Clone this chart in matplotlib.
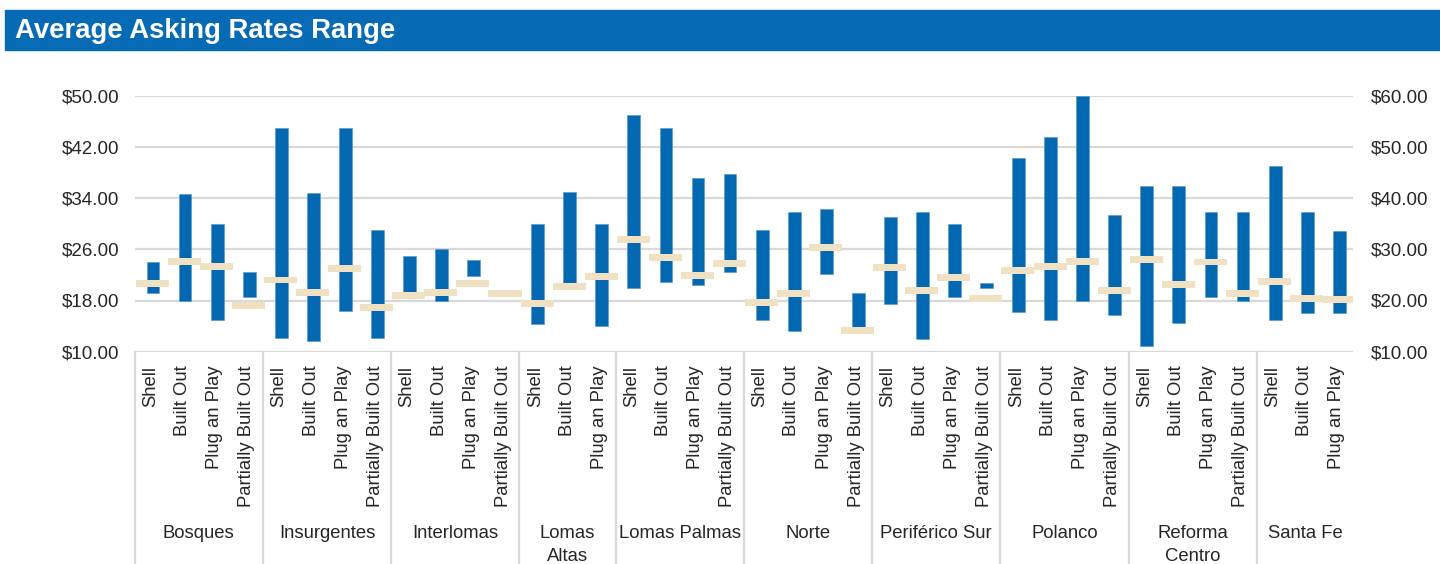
import matplotlib
matplotlib.use("Agg")
import matplotlib.pyplot as plt
import matplotlib.transforms as mtransforms
from matplotlib.patches import Rectangle
import numpy as np

plt.rcParams['font.family'] = ['Liberation Sans', 'DejaVu Sans']

title = "Average Asking Rates Range"

groups = ['Bosques', 'Insurgentes', 'Interlomas', 'Lomas\nAltas', 'Lomas Palmas',
          'Norte', 'Periférico Sur', 'Polanco', 'Reforma\nCentro', 'Santa Fe']
group_types = [
    ['Shell', 'Built Out', 'Plug an Play', 'Partially Built Out'],
    ['Shell', 'Built Out', 'Plug an Play', 'Partially Built Out'],
    ['Shell', 'Built Out', 'Plug an Play', 'Partially Built Out'],
    ['Shell', 'Built Out', 'Plug an Play'],
    ['Shell', 'Built Out', 'Plug an Play', 'Partially Built Out'],
    ['Shell', 'Built Out', 'Plug an Play', 'Partially Built Out'],
    ['Shell', 'Built Out', 'Plug an Play', 'Partially Built Out'],
    ['Shell', 'Built Out', 'Plug an Play', 'Partially Built Out'],
    ['Shell', 'Built Out', 'Plug an Play', 'Partially Built Out'],
    ['Shell', 'Built Out', 'Plug an Play'],
]

low_rate = [19.2, 18.0, 15.0, 18.6,
            12.2, 11.6, 16.4, 12.2,
            19.2, 18.0, 21.9, 19.1,
            14.4, 20.6, 14.0,
            20.0, 20.9, 20.5, 22.4,
            15.0, 13.3, 22.1, 13.6,
            17.4, 12.0, 18.6, 19.9,
            16.2, 15.0, 18.0, 15.7,
            10.9, 14.5, 18.6, 18.0,
            15.0, 16.0, 16.0]
high_rate = [24.0, 34.7, 29.9, 22.5,
             44.9, 34.8, 44.9, 29.0,
             25.0, 26.1, 24.3, 19.1,
             29.9, 34.9, 29.9,
             47.0, 44.9, 37.2, 37.7,
             29.0, 31.9, 32.3, 19.1,
             31.0, 31.9, 29.9, 20.7,
             40.3, 43.6, 50.0, 31.3,
             35.9, 35.9, 31.9, 31.9,
             39.0, 31.9, 28.9]
avg_rate = [20.7, 24.1, 23.3, 17.2,
            21.2, 19.3, 23.0, 16.9,
            18.8, 19.3, 20.7, 19.1,
            17.5, 20.2, 21.8,
            27.5, 24.7, 21.9, 23.8,
            17.7, 19.1, 26.3, 13.3,
            23.2, 19.6, 21.6, 18.3,
            22.7, 23.3, 24.1, 19.6,
            24.4, 20.5, 24.0, 19.1,
            21.0, 18.3, 18.2]

left_ticks = [10, 18, 26, 34, 42, 50]
right_ticks = [10, 20, 30, 40, 50, 60]

BLUE = '#0468B1'
TAN = '#F0E1C3'
GRID = '#D9D9D9'
TXT = '#262626'

W, H = 1440, 564
fig = plt.figure(figsize=(W / 100, H / 100), dpi=100)

# title band
fig.patches.append(Rectangle((5 / W, 1 - 50 / H), 1 - 5 / W, 40 / H,
                             transform=fig.transFigure, color='#066BB4', zorder=0))
fig.text(15 / W, 1 - 30.5 / H, title, color='white', fontsize=19.8,
         fontweight='bold', va='center', ha='left')

L, R = 134.7 / W, 1353 / W
B, T = 1 - 351.7 / H, 1 - 95.7 / H
ax = fig.add_axes([L, B, R - L, T - B])

categories = [t for g in group_types for t in g]
x = np.arange(len(categories))
low = np.array(low_rate)
high = np.array(high_rate)
avg = np.array(avg_rate)

ax.bar(x + 0.07, high - low, bottom=low, width=0.4, color=BLUE,
       edgecolor='#4F93CF', linewidth=0.4, zorder=3)
mh = 1.04
ax.bar(x + 0.05, np.full(len(x), mh), bottom=avg - mh / 2, width=1.03,
       color=TAN, zorder=4, linewidth=0)

ax.set_xlim(-0.5, len(categories) - 0.5)
ax.set_ylim(10, 50)
ax.set_yticks(left_ticks)
ax.set_yticklabels([f"${v:.2f}" for v in left_ticks])
ax.yaxis.grid(True, color=GRID, linewidth=1.6, zorder=0)
ax.set_axisbelow(True)
for s in ax.spines.values():
    s.set_visible(False)
ax.tick_params(axis='y', length=0, pad=11, labelsize=13.5, labelcolor=TXT)
ax.set_xticks(x)
ax.set_xticklabels(categories, rotation=90, fontsize=13.3, color=TXT)
ax.tick_params(axis='x', length=0, pad=10)
for lab in ax.get_xticklabels():
    lab.set_va('top')
    lab.set_ha('center')

ax2 = ax.twinx()
ax2.set_ylim(10, 60)
ax2.set_yticks(right_ticks)
ax2.set_yticklabels([f"${v:.2f}" for v in right_ticks])
ax2.tick_params(axis='y', length=0, pad=13, labelsize=13.5, labelcolor=TXT)
for s in ax2.spines.values():
    s.set_visible(False)

# group separators and labels
trans = mtransforms.blended_transform_factory(ax.transData, ax.transAxes)
ph = 351.7 - 95.7
ybot = -(H - 351.7) / ph
start = 0
for g, types in zip(groups, group_types):
    n = len(types)
    ax.plot([start - 0.5, start - 0.5], [0, ybot], transform=trans, color=GRID,
            linewidth=1.6, clip_on=False, zorder=1)
    ax.text(start + (n - 1) / 2, -(525 - 351.7) / ph, g, transform=trans,
            ha='center', va='top', fontsize=13.3, color=TXT, linespacing=1.45)
    start += n

fig.savefig('out.png', dpi=100)
